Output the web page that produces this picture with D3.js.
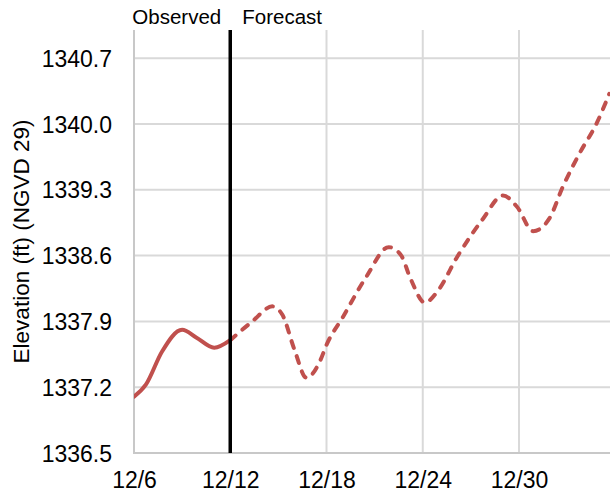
<!DOCTYPE html>
<html>
<head>
<meta charset="utf-8">
<script src="https://cdn.jsdelivr.net/npm/d3@7"></script>
<style>
  html, body { margin: 0; padding: 0; background: #fff; }
  svg { display: block; }
  text { font-family: "Liberation Sans", Arial, sans-serif; fill: #000; }
</style>
</head>
<body>
<svg id="chart" width="610" height="497"></svg>
<script>
// ---- data ----
const observedDates = ["2023-12-06 00:00","2023-12-06 18:00","2023-12-07 18:00","2023-12-09 00:00","2023-12-09 21:00","2023-12-11 00:00","2023-12-12 00:00"];
const observedValues = [1337.10,1337.23,1337.58,1337.81,1337.73,1337.62,1337.70];

const forecastDates = ["2023-12-12 00:00","2023-12-13 09:00","2023-12-14 15:00","2023-12-15 06:00","2023-12-16 00:00","2023-12-16 18:00","2023-12-17 15:00","2023-12-18 00:00","2023-12-19 00:00","2023-12-20 12:00","2023-12-21 21:00","2023-12-22 15:00","2023-12-23 06:00","2023-12-24 03:00","2023-12-25 00:00","2023-12-26 03:00","2023-12-27 18:00","2023-12-29 00:00","2023-12-29 21:00","2023-12-30 21:00","2023-12-31 21:00","2024-01-01 18:00","2024-01-02 18:00","2024-01-03 21:00","2024-01-04 15:00"];
const forecastValues = [1337.70,1337.90,1338.06,1337.97,1337.60,1337.30,1337.49,1337.65,1337.94,1338.38,1338.69,1338.61,1338.35,1338.10,1338.24,1338.58,1338.99,1339.24,1339.12,1338.86,1338.99,1339.34,1339.68,1340.02,1340.32];

const xTickDates = ["2023-12-06","2023-12-12","2023-12-18","2023-12-24","2023-12-30"];
const xTickLabels = ["12/6","12/12","12/18","12/24","12/30"];
const yTicks = [1336.5,1337.2,1337.9,1338.6,1339.3,1340.0,1340.7];
const yTickLabels = ["1336.5","1337.2","1337.9","1338.6","1339.3","1340.0","1340.7"];
const splitDate = "2023-12-12";
const yTitle = "Elevation (ft) (NGVD 29)";
const leftLabel = "Observed";
const rightLabel = "Forecast";

// ---- layout ----
const svg = d3.select("#chart");
const parseT = d3.timeParse("%Y-%m-%d %H:%M");
const parseD = d3.timeParse("%Y-%m-%d");
const plot = { left: 134, right: 610, top: 30, bottom: 453 };
const lineColor = "#c0504d";

const x = d3.scaleTime()
  .domain([parseD("2023-12-06"), parseD("2023-12-30")])
  .range([plot.left, 519]);
const y = d3.scaleLinear().domain([1336.5, 1341.0]).range([plot.bottom, plot.top]);

// gridlines
const grid = svg.append("g");
grid.selectAll("line.v").data(xTickDates.slice(1)).enter().append("line")
  .attr("x1", d => x(parseD(d))).attr("x2", d => x(parseD(d)))
  .attr("y1", plot.top).attr("y2", plot.bottom)
  .attr("stroke", "#d9d9d9").attr("stroke-width", 2);
grid.selectAll("line.h").data(yTicks.slice(1)).enter().append("line")
  .attr("x1", plot.left).attr("x2", plot.right)
  .attr("y1", d => y(d)).attr("y2", d => y(d))
  .attr("stroke", "#d9d9d9").attr("stroke-width", 2);

// axes lines
svg.append("line").attr("x1", plot.left).attr("x2", plot.left).attr("y1", plot.top).attr("y2", plot.bottom + 1)
  .attr("stroke", "#c8c8c8").attr("stroke-width", 2);
svg.append("line").attr("x1", plot.left).attr("x2", plot.right).attr("y1", plot.bottom).attr("y2", plot.bottom)
  .attr("stroke", "#c8c8c8").attr("stroke-width", 2);

// axes via d3
const xAxis = d3.axisBottom(x)
  .tickValues(xTickDates.map(parseD))
  .tickFormat((d, i) => xTickLabels[i]).tickSize(0).tickPadding(0);
const gx = svg.append("g").attr("transform", `translate(0,${plot.bottom})`).call(xAxis);
gx.select(".domain").remove();
gx.selectAll("text").attr("font-size", 23).attr("dy", null).attr("y", 35)
  .style("font-family", '"Liberation Sans", Arial, sans-serif').attr("fill", "#000");

const yAxis = d3.axisLeft(y).tickValues(yTicks)
  .tickFormat((d, i) => yTickLabels[i]).tickSize(0).tickPadding(0);
const gy = svg.append("g").attr("transform", `translate(112,0)`).call(yAxis);
gy.select(".domain").remove();
gy.selectAll("text").attr("font-size", 23).attr("x", 0).attr("dy", "0.35em")
  .style("font-family", '"Liberation Sans", Arial, sans-serif').attr("fill", "#000");

// y title
svg.append("text")
  .attr("transform", `translate(29,${(plot.top + plot.bottom) / 2}) rotate(-90)`)
  .attr("text-anchor", "middle").attr("font-size", 22.5).text(yTitle);

// lines
const clip = svg.append("clipPath").attr("id", "clip").append("rect")
  .attr("x", plot.left).attr("y", plot.top - 10).attr("width", plot.right - plot.left).attr("height", plot.bottom - plot.top + 20);

const line = d3.line().x(d => x(d[0])).y(d => y(d[1])).curve(d3.curveMonotoneX);
const obs = observedDates.map((d, i) => [parseT(d), observedValues[i]]);
const fc = forecastDates.map((d, i) => [parseT(d), forecastValues[i]]);

const lines = svg.append("g").attr("clip-path", "url(#clip)");
lines.append("path").datum(obs).attr("d", line)
  .attr("fill", "none").attr("stroke", lineColor).attr("stroke-width", 4).attr("stroke-linecap", "round");
lines.append("path").datum(fc).attr("d", line)
  .attr("fill", "none").attr("stroke", lineColor).attr("stroke-width", 4)
  .attr("stroke-dasharray", "7,9").attr("stroke-linecap", "round");

// split line
const sx = x(parseD(splitDate));
svg.append("line").attr("x1", sx).attr("x2", sx).attr("y1", plot.top).attr("y2", plot.bottom)
  .attr("stroke", "#000").attr("stroke-width", 3.5);

svg.append("text").attr("x", sx - 9).attr("y", 24).attr("text-anchor", "end").attr("font-size", 20.5).text(leftLabel);
svg.append("text").attr("x", sx + 12).attr("y", 24).attr("text-anchor", "start").attr("font-size", 20.5).text(rightLabel);
</script>
</body>
</html>
